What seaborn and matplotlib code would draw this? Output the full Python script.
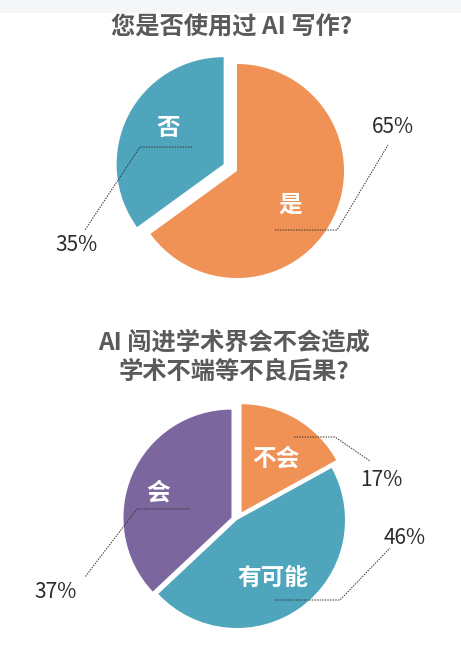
import numpy as np
import matplotlib
matplotlib.use('Agg')
import matplotlib.pyplot as plt
import seaborn as sns

# chart 1
q1_title = '您是否使用过 AI 写作?'
q1_labels = ['否', '是']
q1_values = [35, 65]
q1_colors = ['#4fa5bb', '#f09156']

# chart 2
q2_title = 'AI 闯进学术界会不会造成\n学术不端等不良后果?'
q2_labels = ['不会', '有可能', '会']
q2_values = [17, 46, 37]
q2_colors = ['#f09156', '#4fa5bb', '#7b679e']

sns.set_theme(style='white')
plt.rcParams['font.family'] = ['Noto Sans CJK SC', 'DejaVu Sans']

W, H = 461, 666
fig = plt.figure(figsize=(W / 100, H / 100), dpi=100)
ax = fig.add_axes([0, 0, 1, 1])


def py(y):
    # pixel row -> data y
    return H - y


# faint band at top
ax.add_patch(plt.Rectangle((0, py(13)), W, 13, color='#f4f6f8', lw=0, zorder=0))

# pie 1 (explode is in data units here, i.e. pixels)
ax.pie(q1_values, colors=q1_colors, startangle=90, counterclock=True,
       center=(237, py(171)), radius=107, explode=[15, 0],
       wedgeprops=dict(linewidth=0))
# pie 2
ax.pie(q2_values, colors=q2_colors, startangle=90, counterclock=False,
       center=(237, py(520)), radius=108, explode=[9, 0, 6],
       wedgeprops=dict(linewidth=0))

ax.set_xlim(0, W)
ax.set_ylim(0, H)
ax.set_aspect('equal')
ax.axis('off')

title_kw = dict(ha='center', va='center', fontsize=17.5, fontweight='bold', color='#5a5a5a')
ax.text(232, py(28), q1_title, **title_kw)
ax.text(234, py(357), q2_title, linespacing=1.3, **title_kw)

inner_kw = dict(ha='center', va='center', fontsize=17, fontweight='bold', color='white')
pct_kw = dict(ha='center', va='center', fontsize=15, fontweight='light', color='#2b2b2b')
line_kw = dict(color='#333333', lw=0.7, ls=(0, (1.5, 1.2)))

# slice names, percent labels and leader lines: (name xy, pct xy, leader polyline)
marks1 = [
    ((168, 128), (76, 245), [(192, 147), (140, 147), (85, 230)]),
    ((290, 205), (393, 127), [(275, 230), (337, 230), (388, 145)]),
]
marks2 = [
    ((276, 458), (381, 480), [(294, 437), (335, 437), (370, 461)]),
    ((273, 578), (405, 538), [(275, 600), (340, 600), (390, 548)]),
    ((158, 492), (56, 592), [(190, 509), (137, 509), (85, 577)]),
]

for labels, values, marks in [(q1_labels, q1_values, marks1), (q2_labels, q2_values, marks2)]:
    for lab, val, (nxy, pxy, line) in zip(labels, values, marks):
        ax.text(nxy[0], py(nxy[1]), lab, **inner_kw)
        ax.text(pxy[0], py(pxy[1]), f'{val}%', **pct_kw)
        xs = [p[0] for p in line]
        ys = [py(p[1]) for p in line]
        ax.plot(xs, ys, **line_kw)

fig.savefig('out.png', dpi=100)
